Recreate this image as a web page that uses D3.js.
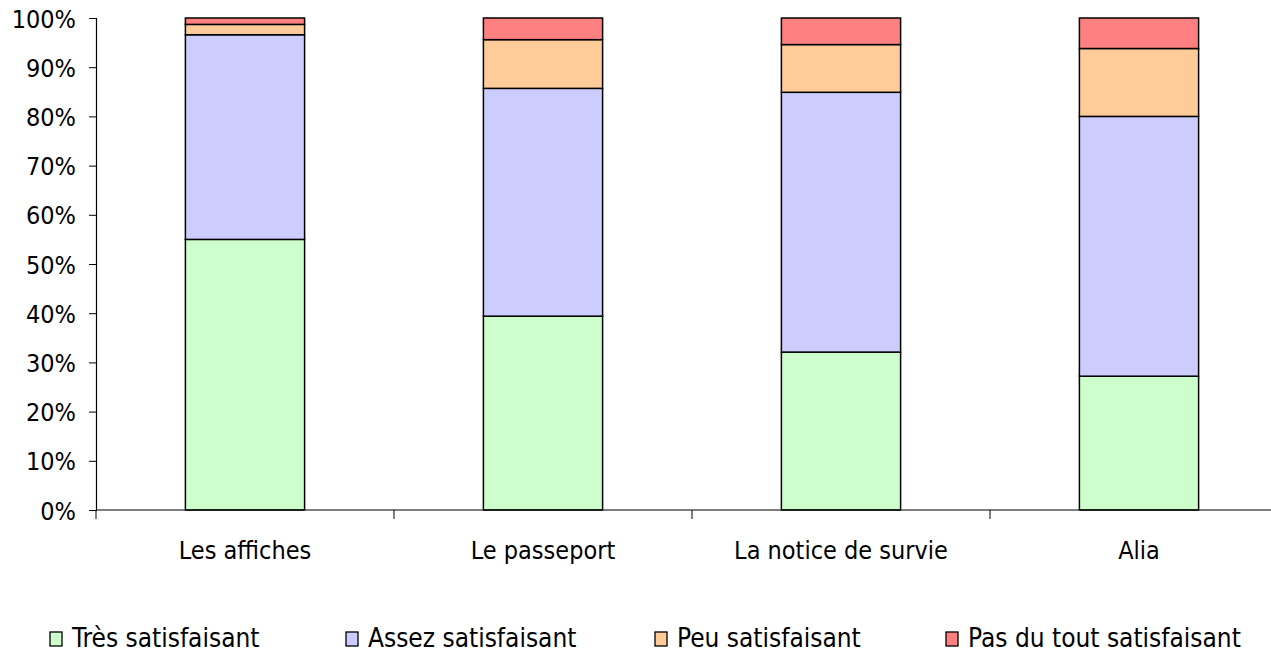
<!DOCTYPE html>
<html><head><meta charset="utf-8">
<script src="https://cdn.jsdelivr.net/npm/d3@7"></script>
<style>body{margin:0;background:#fff}svg{display:block}text{font-family:"DejaVu Sans Condensed","DejaVu Sans",sans-serif}</style>
</head><body><svg id="c" width="1271" height="654"></svg>
<script>
const categories = ["Les affiches","Le passeport","La notice de survie","Alia"];
const seriesNames = ["Très satisfaisant","Assez satisfaisant","Peu satisfaisant","Pas du tout satisfaisant"];
const tresSatisfaisant = [55.0, 39.4, 32.1, 27.2];
const assezSatisfaisant = [41.6, 46.3, 52.8, 52.8];
const peuSatisfaisant = [2.1, 9.9, 9.7, 13.8];
const pasDuTout = [1.3, 4.4, 5.4, 6.2];
const colors = ["#CCFFCC","#CCCCFF","#FFCC99","#FF8080"];
const yTicks = [0,10,20,30,40,50,60,70,80,90,100];

const rows = categories.map((c,i)=>({cat:c, s0:tresSatisfaisant[i], s1:assezSatisfaisant[i], s2:peuSatisfaisant[i], s3:pasDuTout[i]}));
const keys = ["s0","s1","s2","s3"];
const stacked = d3.stack().keys(keys).offset(d3.stackOffsetExpand)(rows);

const svg = d3.select("#c");
const x = d3.scaleBand().domain(categories).range([96, 1288]).paddingInner(0.6).paddingOuter(0.3);
const xt = d3.scaleBand().domain(categories).range([96, 1288]);
const y = d3.scaleLinear().domain([0,1]).range([510, 18]);

// bars
svg.append("g").selectAll("g").data(stacked).join("g")
  .attr("fill",(d,i)=>colors[i])
  .selectAll("rect").data(d=>d).join("rect")
  .attr("x",d=>x(d.data.cat)).attr("width",x.bandwidth())
  .attr("y",d=>y(d[1])).attr("height",d=>y(d[0])-y(d[1]))
  .attr("stroke","#000").attr("stroke-width",1.5);

// y axis
const ya = svg.append("g").attr("transform","translate(96,0)")
  .call(d3.axisLeft(y).tickValues(yTicks.map(v=>v/100)).tickFormat(v=>Math.round(v*100)+"%").tickSize(7).tickPadding(13));
ya.select(".domain").attr("stroke","#000").attr("stroke-width",1.2);
ya.selectAll(".tick line").attr("stroke","#000");
ya.selectAll("text").attr("font-size",25).attr("fill","#000").attr("dy","0.36em").attr("font-family","'DejaVu Sans Condensed','DejaVu Sans',sans-serif");

// x axis
const xa = svg.append("g").attr("transform","translate(0,510)");
xa.append("line").attr("x1",96).attr("x2",1271).attr("stroke","#000").attr("stroke-width",1.2);
xa.selectAll("line.t").data(categories).join("line").attr("class","t")
  .attr("x1",d=>xt(d)).attr("x2",d=>xt(d)).attr("y1",0).attr("y2",9).attr("stroke","#000");
xa.selectAll("text").data(categories).join("text")
  .attr("x",d=>x(d)+x.bandwidth()/2).attr("y",49).attr("text-anchor","middle")
  .attr("font-size",25).text(d=>d);

// legend
const legX = [50, 346, 655, 946];
const lg = svg.append("g").selectAll("g").data(seriesNames).join("g")
  .attr("transform",(d,i)=>`translate(${legX[i]},632)`);
lg.append("rect").attr("width",12).attr("height",14).attr("fill",(d,i)=>colors[i]).attr("stroke","#000").attr("stroke-width",1.3);
lg.append("text").attr("x",22).attr("y",15).attr("font-size",26).text(d=>d);
</script></body></html>
